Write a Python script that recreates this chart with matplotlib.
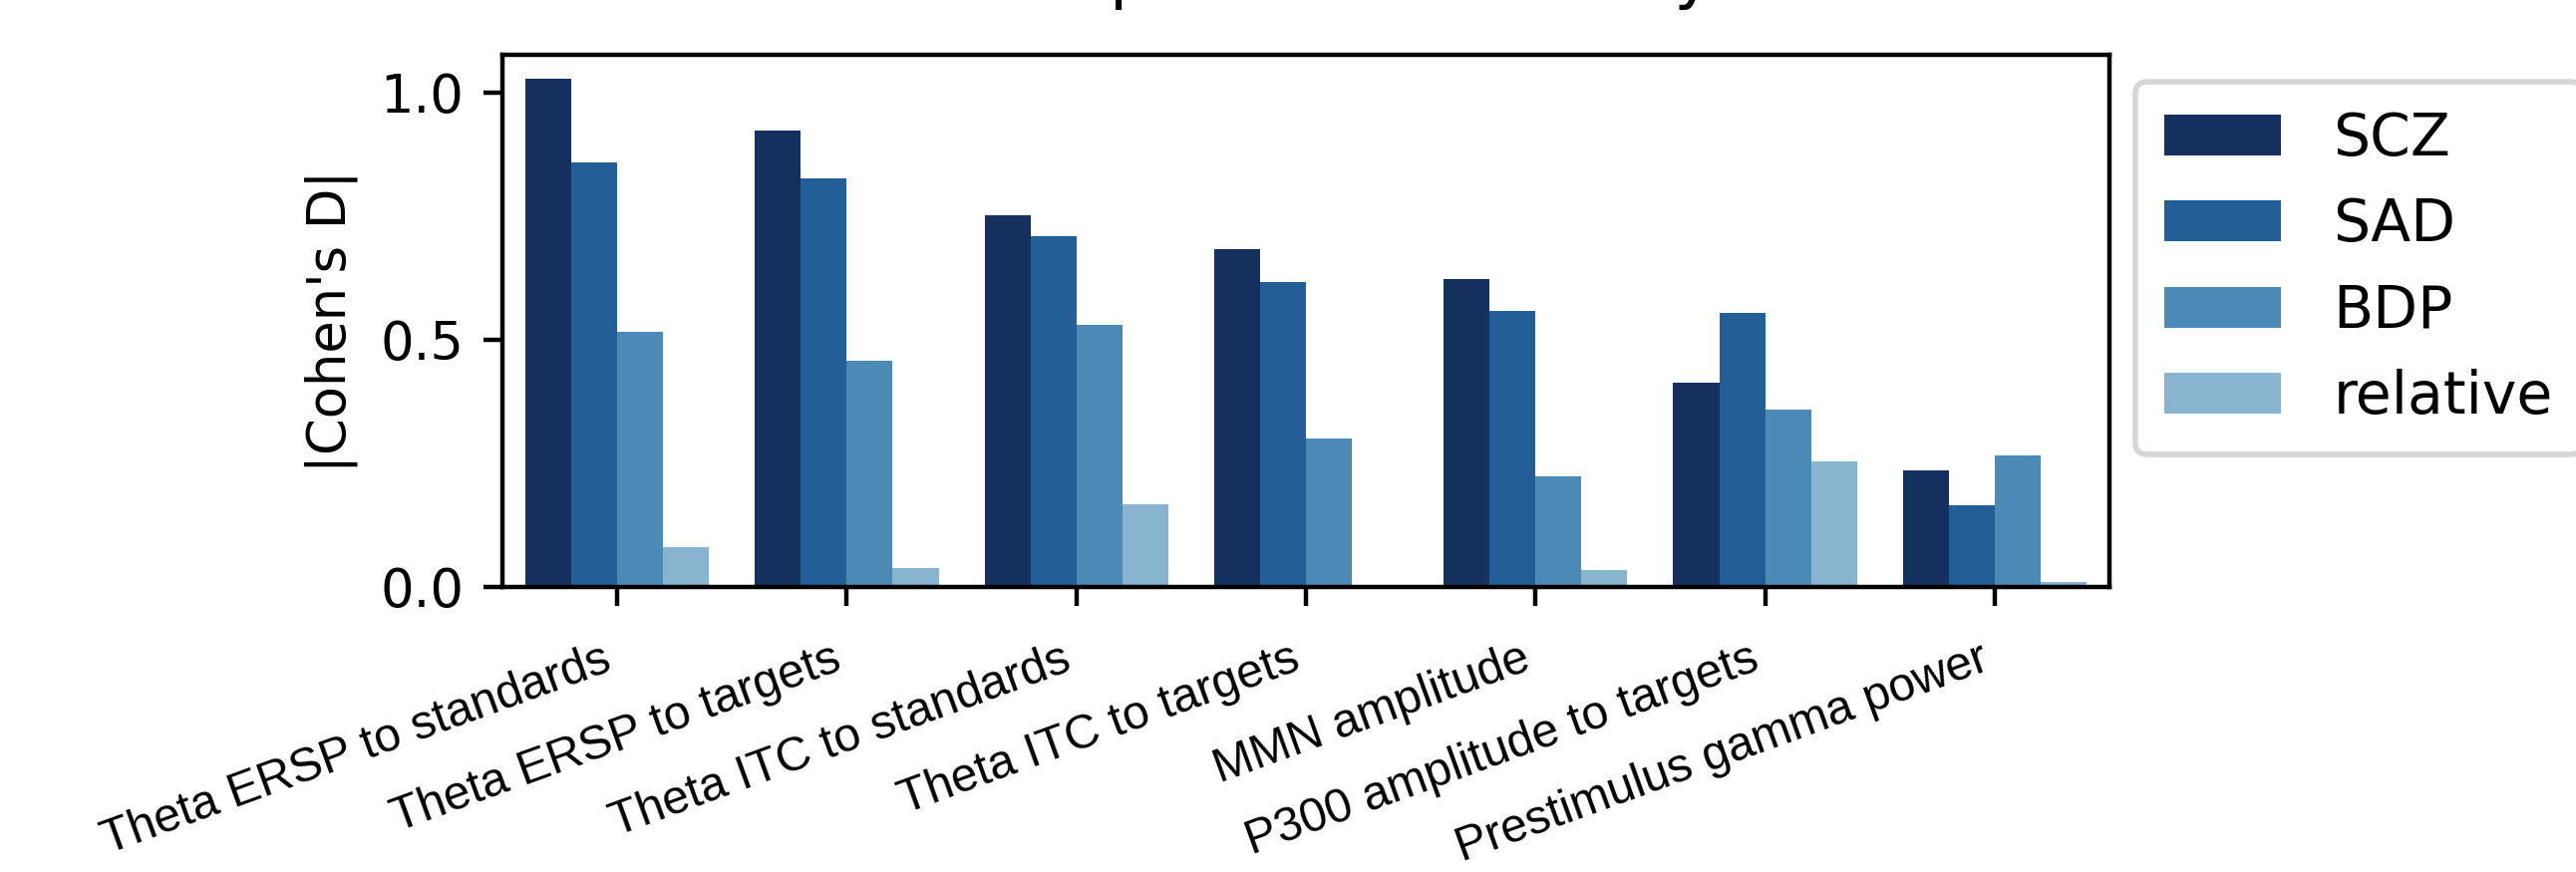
import numpy as np
import matplotlib
matplotlib.use("Agg")
import matplotlib.pyplot as plt

measures = ["Theta ERSP to standards", "Theta ERSP to targets", "Theta ITC to standards",
            "Theta ITC to targets", "MMN amplitude", "P300 amplitude to targets",
            "Prestimulus gamma power"]
groups = ["SCZ", "SAD", "BDP", "relative"]
scz = [1.027, 0.923, 0.751, 0.684, 0.622, 0.414, 0.236]
sad = [0.858, 0.827, 0.709, 0.617, 0.558, 0.555, 0.166]
bdp = [0.516, 0.457, 0.530, 0.300, 0.224, 0.359, 0.266]
rel = [0.081, 0.039, 0.168, 0.003, 0.034, 0.253, 0.011]
colors = ["#13305f", "#235f96", "#4c89b5", "#88b4cf"]

W, H, DPI = 2584, 875, 400
fig = plt.figure(figsize=(W / DPI, H / DPI), dpi=DPI)
ax = fig.add_axes([504 / W, 1 - 589 / H, (2116 - 504) / W, (589 - 55) / H])

x = np.arange(len(measures))
width = 0.2
for k, (vals, name) in enumerate(zip([scz, sad, bdp, rel], groups)):
    ax.bar(x + (k - 1.5) * width, vals, width, color=colors[k], label=name, linewidth=0)

ax.set_xlim(-0.5, len(measures) - 0.5)
ax.set_ylim(0, 1.076)
ax.set_yticks([0.0, 0.5, 1.0])
ax.tick_params(axis="y", labelsize=9.5)
ax.tick_params(axis="x", pad=5.5)
ax.set_ylabel("|Cohen's D|", fontsize=9.5)
ax.set_xticks(x)
ax.set_xticklabels(measures, rotation=20, ha="right", fontsize=8.6, family="Liberation Sans")

ax.legend(loc="upper left", bbox_to_anchor=(2142 / W, 1 - 82 / H), bbox_transform=fig.transFigure,
          borderaxespad=0, fontsize=10.5, labelspacing=0.5, borderpad=0.5, handletextpad=0.9)

# title sits mostly above the canvas, only descenders show
fig.text(961 / W, 1 + 4 / H, "Comparison to healthy", fontsize=12, ha="left", va="baseline")

fig.savefig("out.png", dpi=DPI)
